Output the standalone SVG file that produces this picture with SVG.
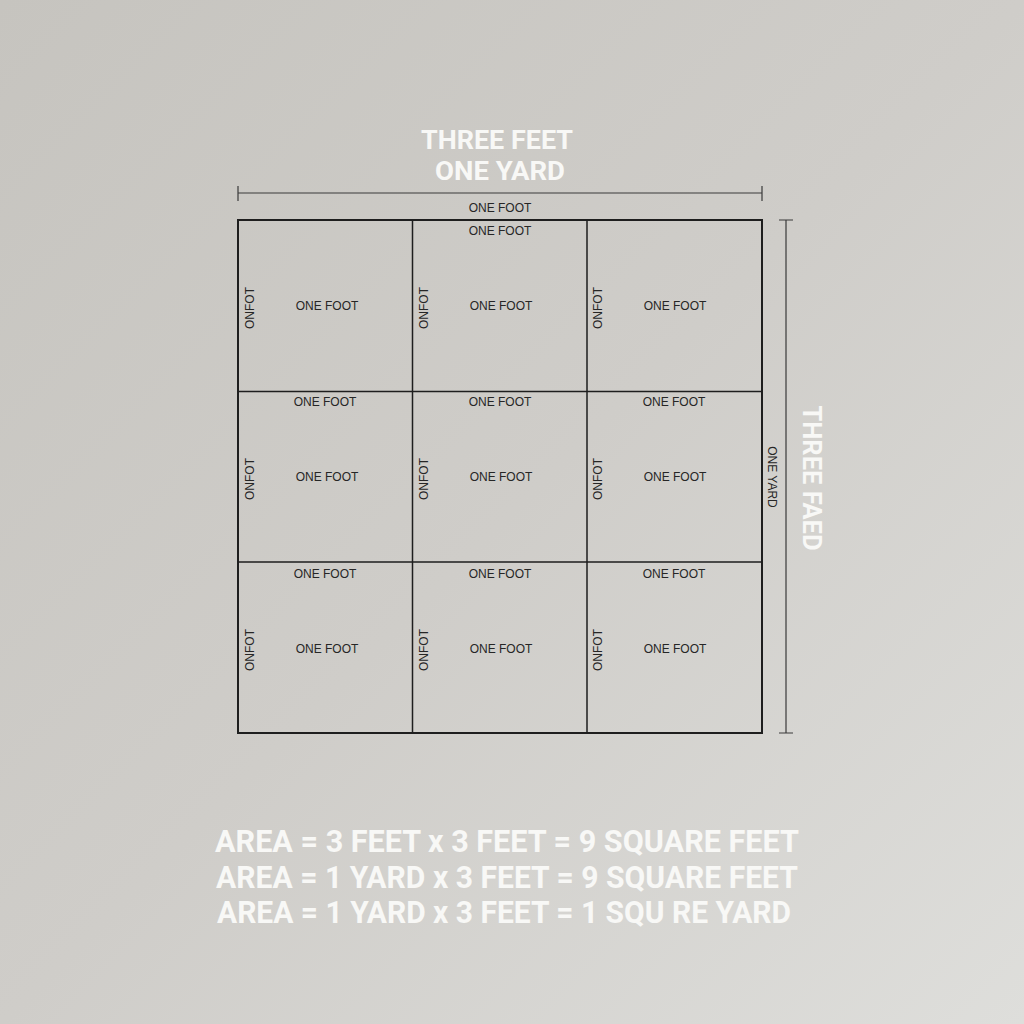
<svg xmlns="http://www.w3.org/2000/svg" width="1024" height="1024" viewBox="0 0 1024 1024">
<defs>
<linearGradient id="bg" x1="0" y1="0" x2="1" y2="1">
<stop offset="0" stop-color="#c6c4bf"/>
<stop offset="0.5" stop-color="#cfcdc9"/>
<stop offset="1" stop-color="#dededb"/>
</linearGradient>
<style>
.lbl{font-family:"Liberation Sans",Arial,sans-serif;font-size:12px;fill:#262626;text-anchor:middle}
.big{font-family:Roboto,"Liberation Sans",sans-serif;font-weight:bold;fill:#f8f8f6;text-anchor:middle}
.dim{stroke:#3a3a3a;stroke-width:1.2;fill:none}
.grid{stroke:#1e1e1e;fill:none}
</style>
</defs>
<rect width="1024" height="1024" fill="url(#bg)"/>
<g id="titles">
<text class="big" x="497" y="149" font-size="26" textLength="152" lengthAdjust="spacingAndGlyphs">THREE FEET</text>
<text class="big" x="500" y="180" font-size="26" textLength="130" lengthAdjust="spacingAndGlyphs">ONE YARD</text>
<text class="big" x="0" y="0" font-size="25" transform="translate(803,478) rotate(90)" textLength="145" lengthAdjust="spacingAndGlyphs">THREE FAED</text>
</g>
<g id="connectors">
<path class="dim" d="M238,193 H762 M238,186 V201 M762,186 V201"/>
<path class="dim" d="M786,220 V733 M779,220 H793 M779,733 H793"/>
</g>
<g id="grid">
<rect class="grid" x="238" y="220" width="524" height="513" stroke-width="2"/>
<path class="grid" stroke-width="1.5" d="M412.5,220 V733 M587,220 V733 M238,391.5 H762 M238,562 H762"/>
</g>
<g id="labels">
<text class="lbl" x="500" y="212">ONE FOOT</text>
<text class="lbl" x="500" y="235">ONE FOOT</text>
<text class="lbl" x="0" y="0" font-size="11" transform="translate(768,477) rotate(90)">ONE YARD</text>
</g>
<g id="row1">
<g id="c11"><text class="lbl" x="327" y="310">ONE FOOT</text><text class="lbl" transform="translate(254,308) rotate(-90)">ONFOT</text></g>
<g id="c12"><text class="lbl" x="501" y="310">ONE FOOT</text><text class="lbl" transform="translate(428,308) rotate(-90)">ONFOT</text></g>
<g id="c13"><text class="lbl" x="675" y="310">ONE FOOT</text><text class="lbl" transform="translate(602,308) rotate(-90)">ONFOT</text></g>
</g>
<g id="row2">
<g id="c21"><text class="lbl" x="325" y="406">ONE FOOT</text><text class="lbl" x="327" y="481">ONE FOOT</text><text class="lbl" transform="translate(254,479) rotate(-90)">ONFOT</text></g>
<g id="c22"><text class="lbl" x="500" y="406">ONE FOOT</text><text class="lbl" x="501" y="481">ONE FOOT</text><text class="lbl" transform="translate(428,479) rotate(-90)">ONFOT</text></g>
<g id="c23"><text class="lbl" x="674" y="406">ONE FOOT</text><text class="lbl" x="675" y="481">ONE FOOT</text><text class="lbl" transform="translate(602,479) rotate(-90)">ONFOT</text></g>
</g>
<g id="row3">
<g id="c31"><text class="lbl" x="325" y="578">ONE FOOT</text><text class="lbl" x="327" y="653">ONE FOOT</text><text class="lbl" transform="translate(254,650) rotate(-90)">ONFOT</text></g>
<g id="c32"><text class="lbl" x="500" y="578">ONE FOOT</text><text class="lbl" x="501" y="653">ONE FOOT</text><text class="lbl" transform="translate(428,650) rotate(-90)">ONFOT</text></g>
<g id="c33"><text class="lbl" x="674" y="578">ONE FOOT</text><text class="lbl" x="675" y="653">ONE FOOT</text><text class="lbl" transform="translate(602,650) rotate(-90)">ONFOT</text></g>
</g>
<g id="formulas">
<text class="big" x="507" y="852" font-size="32" textLength="584" lengthAdjust="spacingAndGlyphs">AREA = 3 FEET x 3 FEET = 9 SQUARE FEET</text>
<text class="big" x="507" y="888" font-size="32" textLength="582" lengthAdjust="spacingAndGlyphs">AREA = 1 YARD x 3 FEET = 9 SQUARE FEET</text>
<text class="big" x="504" y="923" font-size="32" textLength="574" lengthAdjust="spacingAndGlyphs">AREA = 1 YARD x 3 FEET = 1 SQU RE YARD</text>
</g>
</svg>
